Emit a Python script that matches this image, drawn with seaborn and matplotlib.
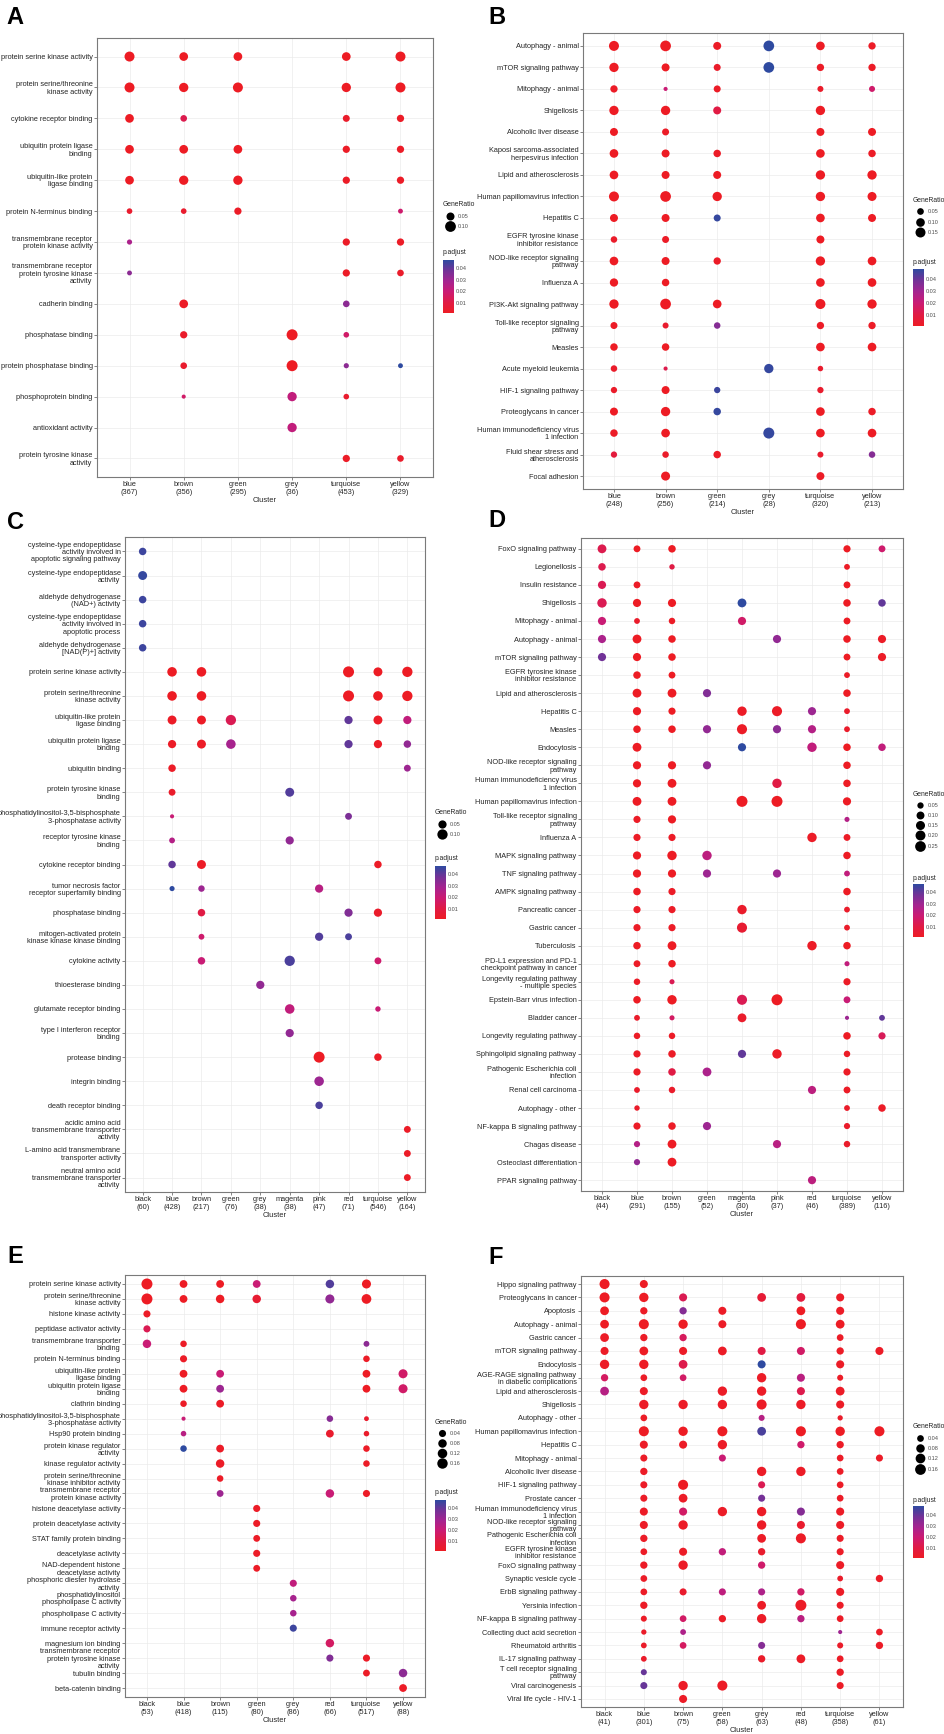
import numpy as np
import pandas as pd
import matplotlib
matplotlib.use("Agg")
import matplotlib.pyplot as plt
import seaborn as sns
from matplotlib.colors import LinearSegmentedColormap, Normalize
from matplotlib.cm import ScalarMappable
from matplotlib.lines import Line2D

_ = None

# ---------------- Panel A ----------------
A_clusters = ["blue", "brown", "green", "grey", "turquoise", "yellow"]
A_counts = [367, 356, 295, 36, 453, 329]
A_terms = ["protein serine kinase activity", "protein serine/threonine\nkinase activity",
           "cytokine receptor binding", "ubiquitin protein ligase\nbinding",
           "ubiquitin-like protein\nligase binding", "protein N-terminus binding",
           "transmembrane receptor\nprotein kinase activity",
           "transmembrane receptor\nprotein tyrosine kinase\nactivity",
           "cadherin binding", "phosphatase binding", "protein phosphatase binding",
           "phosphoprotein binding", "antioxidant activity", "protein tyrosine kinase\nactivity"]
A_ratio = [[0.083, 0.060, 0.060, _, 0.060, 0.083],
           [0.083, 0.070, 0.083, _, 0.070, 0.083],
           [0.060, 0.035, _, _, 0.038, 0.041],
           [0.060, 0.060, 0.060, _, 0.041, 0.041],
           [0.060, 0.070, 0.070, _, 0.041, 0.041],
           [0.028, 0.028, 0.041, _, _, 0.025],
           [0.026, _, _, _, 0.041, 0.041],
           [0.025, _, _, _, 0.041, 0.035],
           [_, 0.060, _, _, 0.035, _],
           [_, 0.041, _, 0.105, 0.028, _],
           [_, 0.035, _, 0.105, 0.026, 0.025],
           [_, 0.024, _, 0.070, 0.028, _],
           [_, _, _, 0.070, _, _],
           [_, _, _, _, 0.041, 0.035]]
A_padj = [[0.001, 0.001, 0.001, _, 0.001, 0.001],
          [0.001, 0.001, 0.001, _, 0.001, 0.001],
          [0.001, 0.012, _, _, 0.003, 0.002],
          [0.001, 0.001, 0.001, _, 0.002, 0.002],
          [0.001, 0.001, 0.001, _, 0.002, 0.002],
          [0.004, 0.004, 0.002, _, _, 0.018],
          [0.027, _, _, _, 0.002, 0.002],
          [0.033, _, _, _, 0.002, 0.003],
          [_, 0.002, _, _, 0.033, _],
          [_, 0.003, _, 0.001, 0.017, _],
          [_, 0.004, _, 0.001, 0.033, 0.047],
          [_, 0.017, _, 0.022, 0.004, _],
          [_, _, _, 0.022, _, _],
          [_, _, _, _, 0.002, 0.003]]
A_breaks = [0.05, 0.10]

# ---------------- Panel B ----------------
B_clusters = ["blue", "brown", "green", "grey", "turquoise", "yellow"]
B_counts = [248, 256, 214, 28, 320, 213]
B_terms = ["Autophagy - animal", "mTOR signaling pathway", "Mitophagy - animal", "Shigellosis",
           "Alcoholic liver disease", "Kaposi sarcoma-associated\nherpesvirus infection",
           "Lipid and atherosclerosis", "Human papillomavirus infection", "Hepatitis C",
           "EGFR tyrosine kinase\ninhibitor resistance", "NOD-like receptor signaling\npathway",
           "Influenza A", "PI3K-Akt signaling pathway", "Toll-like receptor signaling\npathway",
           "Measles", "Acute myeloid leukemia", "HIF-1 signaling pathway", "Proteoglycans in cancer",
           "Human immunodeficiency virus\n1 infection", "Fluid shear stress and\natherosclerosis",
           "Focal adhesion"]
B_ratio = [[0.150, 0.182, 0.080, 0.182, 0.100, 0.063],
           [0.123, 0.080, 0.056, 0.182, 0.063, 0.063],
           [0.063, 0.026, 0.056, _, 0.039, 0.039],
           [0.123, 0.123, 0.080, _, 0.123, _],
           [0.080, 0.056, _, _, 0.080, 0.080],
           [0.100, 0.080, 0.067, _, 0.100, 0.067],
           [0.100, 0.080, 0.080, _, 0.123, 0.123],
           [0.150, 0.182, 0.123, _, 0.123, 0.112],
           [0.080, 0.080, 0.056, _, 0.100, 0.080],
           [0.047, 0.056, _, _, 0.080, _],
           [0.100, 0.080, 0.063, _, 0.123, 0.100],
           [0.089, 0.067, _, _, 0.100, 0.100],
           [0.123, 0.182, 0.100, _, 0.150, 0.123],
           [0.056, 0.039, 0.047, _, 0.063, 0.063],
           [0.067, 0.067, _, _, 0.100, 0.100],
           [0.047, 0.026, _, 0.123, 0.033, _],
           [0.043, 0.080, 0.043, _, 0.043, _],
           [0.080, 0.123, 0.067, _, 0.100, 0.067],
           [0.067, 0.100, _, 0.196, 0.100, 0.100],
           [0.043, 0.047, 0.067, _, 0.039, 0.047],
           [_, 0.112, _, _, 0.080, _]]
B_padj = [[0.001, 0.001, 0.002, 0.048, 0.001, 0.002],
          [0.001, 0.001, 0.003, 0.048, 0.002, 0.002],
          [0.002, 0.020, 0.002, _, 0.003, 0.018],
          [0.001, 0.001, 0.010, _, 0.001, _],
          [0.001, 0.002, _, _, 0.001, 0.001],
          [0.001, 0.001, 0.002, _, 0.001, 0.002],
          [0.001, 0.001, 0.001, _, 0.001, 0.001],
          [0.001, 0.001, 0.001, _, 0.001, 0.001],
          [0.001, 0.001, 0.047, _, 0.001, 0.001],
          [0.003, 0.002, _, _, 0.001, _],
          [0.001, 0.001, 0.002, _, 0.001, 0.001],
          [0.001, 0.001, _, _, 0.001, 0.001],
          [0.001, 0.001, 0.001, _, 0.001, 0.001],
          [0.002, 0.004, 0.035, _, 0.002, 0.002],
          [0.001, 0.001, _, _, 0.001, 0.001],
          [0.003, 0.012, _, 0.047, 0.004, _],
          [0.003, 0.001, 0.046, _, 0.004, _],
          [0.001, 0.001, 0.047, _, 0.001, 0.002],
          [0.002, 0.001, _, 0.047, 0.001, 0.001],
          [0.008, 0.003, 0.002, _, 0.004, 0.035],
          [_, 0.001, _, _, 0.002, _]]
B_breaks = [0.05, 0.10, 0.15]

# ---------------- Panel C ----------------
C_clusters = ["black", "blue", "brown", "green", "grey", "magenta", "pink", "red", "turquoise", "yellow"]
C_counts = [60, 428, 217, 76, 38, 38, 47, 71, 546, 164]
C_terms = ["cysteine-type endopeptidase\nactivity involved in\napoptotic signaling pathway",
           "cysteine-type endopeptidase\nactivity", "aldehyde dehydrogenase\n(NAD+) activity",
           "cysteine-type endopeptidase\nactivity involved in\napoptotic process",
           "aldehyde dehydrogenase\n[NAD(P)+] activity", "protein serine kinase activity",
           "protein serine/threonine\nkinase activity", "ubiquitin-like protein\nligase binding",
           "ubiquitin protein ligase\nbinding", "ubiquitin binding",
           "protein tyrosine kinase\nbinding",
           "phosphatidylinositol-3,5-bisphosphate\n3-phosphatase activity",
           "receptor tyrosine kinase\nbinding", "cytokine receptor binding",
           "tumor necrosis factor\nreceptor superfamily binding", "phosphatase binding",
           "mitogen-activated protein\nkinase kinase kinase binding", "cytokine activity",
           "thioesterase binding", "glutamate receptor binding",
           "type I interferon receptor\nbinding", "protease binding", "integrin binding",
           "death receptor binding", "acidic amino acid\ntransmembrane transporter\nactivity",
           "L-amino acid transmembrane\ntransporter activity",
           "neutral amino acid\ntransmembrane transporter\nactivity"]
C_ratio = [[0.037, _, _, _, _, _, _, _, _, _],
           [0.065, _, _, _, _, _, _, _, _, _],
           [0.037, _, _, _, _, _, _, _, _, _],
           [0.037, _, _, _, _, _, _, _, _, _],
           [0.037, _, _, _, _, _, _, _, _, _],
           [_, 0.080, 0.080, _, _, _, _, 0.122, 0.065, 0.100],
           [_, 0.080, 0.080, _, _, _, _, 0.122, 0.080, 0.100],
           [_, 0.065, 0.065, 0.100, _, _, _, 0.050, 0.065, 0.050],
           [_, 0.050, 0.065, 0.080, _, _, _, 0.050, 0.050, 0.037],
           [_, 0.037, _, _, _, _, _, _, _, 0.028],
           [_, 0.028, _, _, _, 0.065, _, _, _, _],
           [_, 0.010, _, _, _, _, _, 0.028, _, _],
           [_, 0.017, _, _, _, 0.050, _, _, _, _],
           [_, 0.037, 0.065, _, _, _, _, _, 0.037, _],
           [_, 0.0125, 0.023, _, _, _, 0.050, _, _, _],
           [_, _, 0.037, _, _, _, _, 0.050, 0.050, _],
           [_, _, 0.017, _, _, _, 0.050, 0.028, _, _],
           [_, _, 0.037, _, _, 0.100, _, _, 0.028, _],
           [_, _, _, _, 0.050, _, _, _, _, _],
           [_, _, _, _, _, 0.080, _, _, 0.014, _],
           [_, _, _, _, _, 0.050, _, _, _, _],
           [_, _, _, _, _, _, 0.122, _, 0.037, _],
           [_, _, _, _, _, _, 0.080, _, _, _],
           [_, _, _, _, _, _, 0.037, _, _, _],
           [_, _, _, _, _, _, _, _, _, 0.028],
           [_, _, _, _, _, _, _, _, _, 0.028],
           [_, _, _, _, _, _, _, _, _, 0.028]]
C_padj = [[0.045, _, _, _, _, _, _, _, _, _],
          [0.046, _, _, _, _, _, _, _, _, _],
          [0.045, _, _, _, _, _, _, _, _, _],
          [0.045, _, _, _, _, _, _, _, _, _],
          [0.045, _, _, _, _, _, _, _, _, _],
          [_, 0.001, 0.001, _, _, _, _, 0.001, 0.001, 0.001],
          [_, 0.001, 0.001, _, _, _, _, 0.001, 0.001, 0.001],
          [_, 0.002, 0.002, 0.013, _, _, _, 0.040, 0.002, 0.022],
          [_, 0.002, 0.002, 0.028, _, _, _, 0.040, 0.002, 0.032],
          [_, 0.002, _, _, _, _, _, _, _, 0.030],
          [_, 0.003, _, _, _, 0.042, _, _, _, _],
          [_, 0.020, _, _, _, _, _, 0.036, _, _],
          [_, 0.025, _, _, _, 0.032, _, _, _, _],
          [_, 0.040, 0.002, _, _, _, _, _, 0.002, _],
          [_, 0.047, 0.030, _, _, _, 0.024, _, _, _],
          [_, _, 0.010, _, _, _, _, 0.035, 0.003, _],
          [_, _, 0.018, _, _, _, 0.042, 0.043, _, _],
          [_, _, 0.020, _, _, 0.043, _, _, 0.018, _],
          [_, _, _, _, 0.032, _, _, _, _, _],
          [_, _, _, _, _, 0.022, _, _, 0.020, _],
          [_, _, _, _, _, 0.032, _, _, _, _],
          [_, _, _, _, _, _, 0.001, _, 0.002, _],
          [_, _, _, _, _, _, 0.030, _, _, _],
          [_, _, _, _, _, _, 0.043, _, _, _],
          [_, _, _, _, _, _, _, _, _, 0.002],
          [_, _, _, _, _, _, _, _, _, 0.002],
          [_, _, _, _, _, _, _, _, _, 0.002]]
C_breaks = [0.05, 0.10]

# ---------------- Panel D ----------------
D_clusters = ["black", "blue", "brown", "green", "magenta", "pink", "red", "turquoise", "yellow"]
D_counts = [44, 291, 155, 52, 30, 37, 46, 389, 116]
D_terms = ["FoxO signaling pathway", "Legionellosis", "Insulin resistance", "Shigellosis",
           "Mitophagy - animal", "Autophagy - animal", "mTOR signaling pathway",
           "EGFR tyrosine kinase\ninhibitor resistance", "Lipid and atherosclerosis", "Hepatitis C",
           "Measles", "Endocytosis", "NOD-like receptor signaling\npathway",
           "Human immunodeficiency virus\n1 infection", "Human papillomavirus infection",
           "Toll-like receptor signaling\npathway", "Influenza A", "MAPK signaling pathway",
           "TNF signaling pathway", "AMPK signaling pathway", "Pancreatic cancer", "Gastric cancer",
           "Tuberculosis", "PD-L1 expression and PD-1\ncheckpoint pathway in cancer",
           "Longevity regulating pathway\n- multiple species", "Epstein-Barr virus infection",
           "Bladder cancer", "Longevity regulating pathway", "Sphingolipid signaling pathway",
           "Pathogenic Escherichia coli\ninfection", "Renal cell carcinoma", "Autophagy - other",
           "NF-kappa B signaling pathway", "Chagas disease", "Osteoclast differentiation",
           "PPAR signaling pathway"]
D_ratio = [[0.14, 0.064, 0.085, _, _, _, _, 0.074, 0.064],
           [0.085, _, 0.034, _, _, _, _, 0.040, _],
           [0.11, 0.064, _, _, _, _, _, 0.064, _],
           [0.17, 0.11, 0.11, _, 0.14, _, _, 0.085, 0.085],
           [0.11, 0.040, 0.054, _, 0.11, _, _, 0.064, _],
           [0.11, 0.14, 0.085, _, _, 0.11, _, 0.085, 0.11],
           [0.11, 0.11, 0.085, _, _, _, _, 0.064, 0.11],
           [_, 0.085, 0.064, _, _, _, _, 0.040, _],
           [_, 0.14, 0.14, 0.11, _, _, _, 0.085, _],
           [_, 0.11, 0.074, _, 0.17, 0.21, 0.11, 0.040, _],
           [_, 0.085, 0.085, 0.11, 0.21, 0.11, 0.11, 0.040, _],
           [_, 0.14, _, _, 0.11, _, 0.17, 0.085, 0.085],
           [_, 0.11, 0.11, 0.11, _, _, _, 0.085, _],
           [_, 0.11, 0.14, _, _, 0.17, _, 0.085, _],
           [_, 0.14, 0.14, _, 0.27, 0.27, _, 0.11, _],
           [_, 0.074, 0.11, _, _, _, _, 0.030, _],
           [_, 0.074, 0.074, _, _, _, 0.17, 0.064, _],
           [_, 0.11, 0.17, 0.17, _, _, _, 0.085, _],
           [_, 0.11, 0.11, 0.11, _, 0.11, _, 0.040, _],
           [_, 0.085, 0.074, _, _, _, _, 0.085, _],
           [_, 0.074, 0.074, _, 0.17, _, _, 0.040, _],
           [_, 0.074, 0.074, _, 0.21, _, _, 0.040, _],
           [_, 0.085, 0.14, _, _, _, 0.17, 0.085, _],
           [_, 0.064, 0.085, _, _, _, _, 0.030, _],
           [_, 0.054, 0.030, _, _, _, _, 0.074, _],
           [_, 0.085, 0.17, _, 0.21, 0.27, _, 0.064, _],
           [_, 0.040, 0.030, _, 0.14, _, _, 0.025, 0.040],
           [_, 0.054, 0.054, _, _, _, _, 0.085, 0.074],
           [_, 0.074, 0.085, _, 0.11, 0.17, _, 0.054, _],
           [_, 0.074, 0.085, 0.14, _, _, _, 0.074, _],
           [_, 0.040, 0.054, _, _, _, 0.11, 0.064, _],
           [_, 0.034, _, _, _, _, _, 0.040, 0.085],
           [_, 0.074, 0.085, 0.11, _, _, _, 0.047, _],
           [_, 0.047, 0.14, _, _, 0.11, _, 0.054, _],
           [_, 0.047, 0.14, _, _, _, _, _, _],
           [_, _, _, _, _, _, 0.11, _, _]]
D_padj = [[0.012, 0.001, 0.001, _, _, _, _, 0.001, 0.018],
          [0.012, _, 0.010, _, _, _, _, 0.002, _],
          [0.013, 0.002, _, _, _, _, _, 0.001, _],
          [0.013, 0.001, 0.001, _, 0.047, _, _, 0.001, 0.040],
          [0.020, 0.003, 0.002, _, 0.017, _, _, 0.001, _],
          [0.027, 0.001, 0.001, _, _, 0.032, _, 0.001, 0.002],
          [0.038, 0.001, 0.001, _, _, _, _, 0.001, 0.002],
          [_, 0.001, 0.001, _, _, _, _, 0.002, _],
          [_, 0.001, 0.001, 0.035, _, _, _, 0.001, _],
          [_, 0.001, 0.001, _, 0.002, 0.002, 0.030, 0.003, _],
          [_, 0.001, 0.001, 0.032, 0.002, 0.033, 0.025, 0.003, _],
          [_, 0.001, _, _, 0.047, _, 0.022, 0.001, 0.022],
          [_, 0.001, 0.001, 0.032, _, _, _, 0.001, _],
          [_, 0.001, 0.001, _, _, 0.010, _, 0.001, _],
          [_, 0.001, 0.001, _, 0.001, 0.001, _, 0.001, _],
          [_, 0.002, 0.001, _, _, _, _, 0.025, _],
          [_, 0.002, 0.002, _, _, _, 0.002, 0.002, _],
          [_, 0.001, 0.001, 0.023, _, _, _, 0.001, _],
          [_, 0.001, 0.001, 0.030, _, 0.030, _, 0.022, _],
          [_, 0.001, 0.002, _, _, _, _, 0.001, _],
          [_, 0.002, 0.002, _, 0.003, _, _, 0.003, _],
          [_, 0.002, 0.002, _, 0.005, _, _, 0.003, _],
          [_, 0.001, 0.001, _, _, _, 0.002, 0.001, _],
          [_, 0.002, 0.001, _, _, _, _, 0.022, _],
          [_, 0.002, 0.013, _, _, _, _, 0.002, _],
          [_, 0.001, 0.001, _, 0.013, 0.001, _, 0.020, _],
          [_, 0.003, 0.016, _, 0.003, _, _, 0.030, 0.040],
          [_, 0.002, 0.002, _, _, _, _, 0.001, 0.014],
          [_, 0.002, 0.002, _, 0.040, 0.002, _, 0.002, _],
          [_, 0.002, 0.010, 0.027, _, _, _, 0.002, _],
          [_, 0.003, 0.003, _, _, _, 0.023, 0.002, _],
          [_, 0.003, _, _, _, _, _, 0.003, 0.002],
          [_, 0.002, 0.002, 0.030, _, _, _, 0.003, _],
          [_, 0.025, 0.001, _, _, 0.024, _, 0.003, _],
          [_, 0.032, 0.001, _, _, _, _, _, _],
          [_, _, _, _, _, _, 0.023, _, _]]
D_breaks = [0.05, 0.10, 0.15, 0.20, 0.25]

# ---------------- Panel E ----------------
E_clusters = ["black", "blue", "brown", "green", "grey", "red", "turquoise", "yellow"]
E_counts = [53, 418, 115, 80, 86, 66, 517, 88]
E_terms = ["protein serine kinase activity", "protein serine/threonine\nkinase activity",
           "histone kinase activity", "peptidase activator activity",
           "transmembrane transporter\nbinding", "protein N-terminus binding",
           "ubiquitin-like protein\nligase binding", "ubiquitin protein ligase\nbinding",
           "clathrin binding", "phosphatidylinositol-3,5-bisphosphate\n3-phosphatase activity",
           "Hsp90 protein binding", "protein kinase regulator\nactivity", "kinase regulator activity",
           "protein serine/threonine\nkinase inhibitor activity",
           "transmembrane receptor\nprotein kinase activity", "histone deacetylase activity",
           "protein deacetylase activity", "STAT family protein binding", "deacetylase activity",
           "NAD-dependent histone\ndeacetylase activity", "phosphoric diester hydrolase\nactivity",
           "phosphatidylinositol\nphospholipase C activity", "phospholipase C activity",
           "immune receptor activity", "magnesium ion binding",
           "transmembrane receptor\nprotein tyrosine kinase\nactivity", "tubulin binding",
           "beta-catenin binding"]
E_ratio = [[0.19, 0.058, 0.058, 0.058, _, 0.079, 0.100, _],
           [0.19, 0.058, 0.079, 0.079, _, 0.100, 0.128, _],
           [0.040, _, _, _, _, _, _, _],
           [0.040, _, _, _, _, _, _, _],
           [0.079, 0.028, _, _, _, _, 0.017, _],
           [_, 0.040, _, _, _, _, 0.028, _],
           [_, 0.058, 0.058, _, _, _, 0.058, 0.100],
           [_, 0.058, 0.058, _, _, _, 0.058, 0.100],
           [_, 0.028, 0.058, _, _, _, _, _],
           [_, 0.005, _, _, _, 0.028, 0.007, _],
           [_, 0.013, _, _, _, 0.058, 0.013, _],
           [_, 0.028, 0.058, _, _, _, 0.028, _],
           [_, _, 0.079, _, _, _, 0.028, _],
           [_, _, 0.028, _, _, _, _, _],
           [_, _, 0.034, _, _, 0.079, 0.040, _],
           [_, _, _, 0.040, _, _, _, _],
           [_, _, _, 0.040, _, _, _, _],
           [_, _, _, 0.034, _, _, _, _],
           [_, _, _, 0.040, _, _, _, _],
           [_, _, _, 0.034, _, _, _, _],
           [_, _, _, _, 0.040, _, _, _],
           [_, _, _, _, 0.028, _, _, _],
           [_, _, _, _, 0.028, _, _, _],
           [_, _, _, _, 0.040, _, _, _],
           [_, _, _, _, _, 0.079, _, _],
           [_, _, _, _, _, 0.040, 0.040, _],
           [_, _, _, _, _, _, 0.034, 0.079],
           [_, _, _, _, _, _, _, 0.058]]
E_padj = [[0.001, 0.001, 0.001, 0.020, _, 0.042, 0.001, _],
          [0.001, 0.001, 0.001, 0.005, _, 0.032, 0.001, _],
          [0.002, _, _, _, _, _, _, _],
          [0.013, _, _, _, _, _, _, _],
          [0.020, 0.002, _, _, _, _, 0.033, _],
          [_, 0.002, _, _, _, _, 0.002, _],
          [_, 0.001, 0.020, _, _, _, 0.001, 0.017],
          [_, 0.001, 0.030, _, _, _, 0.001, 0.017],
          [_, 0.002, 0.002, _, _, _, _, _],
          [_, 0.020, _, _, _, 0.034, 0.004, _],
          [_, 0.024, _, _, _, 0.004, 0.003, _],
          [_, 0.047, 0.002, _, _, _, 0.002, _],
          [_, _, 0.002, _, _, _, 0.002, _],
          [_, _, 0.002, _, _, _, _, _],
          [_, _, 0.030, _, _, 0.020, 0.002, _],
          [_, _, _, 0.002, _, _, _, _],
          [_, _, _, 0.002, _, _, _, _],
          [_, _, _, 0.002, _, _, _, _],
          [_, _, _, 0.002, _, _, _, _],
          [_, _, _, 0.002, _, _, _, _],
          [_, _, _, _, 0.022, _, _, _],
          [_, _, _, _, 0.028, _, _, _],
          [_, _, _, _, 0.028, _, _, _],
          [_, _, _, _, 0.045, _, _, _],
          [_, _, _, _, _, 0.016, _, _],
          [_, _, _, _, _, 0.035, 0.002, _],
          [_, _, _, _, _, _, 0.002, 0.033],
          [_, _, _, _, _, _, _, 0.002]]
E_breaks = [0.04, 0.08, 0.12, 0.16]

# ---------------- Panel F ----------------
F_clusters = ["black", "blue", "brown", "green", "grey", "red", "turquoise", "yellow"]
F_counts = [41, 301, 75, 58, 63, 48, 358, 61]
F_terms = ["Hippo signaling pathway", "Proteoglycans in cancer", "Apoptosis", "Autophagy - animal",
           "Gastric cancer", "mTOR signaling pathway", "Endocytosis",
           "AGE-RAGE signaling pathway\nin diabetic complications", "Lipid and atherosclerosis",
           "Shigellosis", "Autophagy - other", "Human papillomavirus infection", "Hepatitis C",
           "Mitophagy - animal", "Alcoholic liver disease", "HIF-1 signaling pathway",
           "Prostate cancer", "Human immunodeficiency virus\n1 infection",
           "NOD-like receptor signaling\npathway", "Pathogenic Escherichia coli\ninfection",
           "EGFR tyrosine kinase\ninhibitor resistance", "FoxO signaling pathway",
           "Synaptic vesicle cycle", "ErbB signaling pathway", "Yersinia infection",
           "NF-kappa B signaling pathway", "Collecting duct acid secretion", "Rheumatoid arthritis",
           "IL-17 signaling pathway", "T cell receptor signaling\npathway", "Viral carcinogenesis",
           "Viral life cycle - HIV-1"]
F_ratio = [[0.131, 0.068, _, _, _, _, _, _],
           [0.131, 0.106, 0.068, _, 0.087, 0.087, 0.068, _],
           [0.087, 0.051, 0.051, 0.068, _, 0.087, 0.068, _],
           [0.087, 0.131, 0.106, 0.068, _, 0.131, 0.087, _],
           [0.087, 0.051, 0.051, _, _, _, 0.040, _],
           [0.068, 0.087, 0.068, 0.087, 0.068, 0.068, 0.051, 0.068],
           [0.106, 0.106, 0.087, _, 0.068, _, 0.068, _],
           [0.051, 0.040, 0.040, _, 0.106, 0.068, 0.030, _],
           [0.087, 0.068, _, 0.106, 0.106, 0.068, 0.087, _],
           [_, 0.106, 0.106, 0.106, 0.131, 0.106, 0.068, _],
           [_, 0.040, _, _, 0.030, _, 0.0225, _],
           [_, 0.131, 0.106, 0.131, 0.087, 0.131, 0.106, 0.131],
           [_, 0.068, 0.068, 0.106, _, 0.051, 0.051, _],
           [_, 0.046, _, 0.046, _, _, 0.040, 0.046],
           [_, 0.051, _, _, 0.106, 0.106, 0.040, _],
           [_, 0.046, 0.131, _, 0.046, _, 0.040, _],
           [_, 0.046, 0.087, _, 0.046, _, 0.040, _],
           [_, 0.068, 0.068, 0.106, 0.106, 0.068, 0.068, _],
           [_, 0.068, 0.106, _, 0.106, 0.068, 0.068, _],
           [_, 0.051, _, _, 0.087, 0.131, 0.046, _],
           [_, 0.040, 0.068, 0.051, 0.051, _, 0.046, _],
           [_, 0.051, 0.106, _, 0.051, _, 0.068, _],
           [_, 0.040, _, _, _, _, 0.027, 0.051],
           [_, 0.040, 0.046, 0.046, 0.046, 0.051, 0.068, _],
           [_, 0.051, _, _, 0.087, 0.170, 0.046, _],
           [_, 0.030, 0.040, 0.051, 0.106, 0.051, 0.040, _],
           [_, 0.0225, 0.027, _, _, _, 0.018, 0.040],
           [_, 0.027, 0.040, _, 0.046, _, 0.030, 0.051],
           [_, 0.027, _, _, 0.051, 0.087, 0.040, _],
           [_, 0.030, _, _, _, _, 0.051, _],
           [_, 0.046, 0.106, 0.131, _, _, 0.046, _],
           [_, _, 0.068, _, _, _, _, _]]
F_padj = [[0.001, 0.001, _, _, _, _, _, _],
          [0.001, 0.001, 0.013, _, 0.006, 0.008, 0.002, _],
          [0.001, 0.002, 0.035, 0.002, _, 0.001, 0.002, _],
          [0.001, 0.001, 0.001, 0.002, _, 0.001, 0.001, _],
          [0.002, 0.002, 0.015, _, _, _, 0.002, _],
          [0.002, 0.001, 0.002, 0.002, 0.010, 0.017, 0.002, 0.002],
          [0.002, 0.001, 0.012, _, 0.048, _, 0.002, _],
          [0.016, 0.002, 0.017, _, 0.002, 0.024, 0.002, _],
          [0.025, 0.002, _, 0.002, 0.002, 0.012, 0.002, _],
          [_, 0.002, 0.002, 0.002, 0.002, 0.002, 0.002, _],
          [_, 0.002, _, _, 0.025, _, 0.003, _],
          [_, 0.001, 0.001, 0.001, 0.044, 0.001, 0.001, 0.001],
          [_, 0.002, 0.002, 0.002, _, 0.018, 0.002, _],
          [_, 0.002, _, 0.020, _, _, 0.002, 0.002],
          [_, 0.002, _, _, 0.002, 0.002, 0.002, _],
          [_, 0.002, 0.001, _, 0.013, _, 0.002, _],
          [_, 0.002, 0.002, _, 0.038, _, 0.002, _],
          [_, 0.002, 0.017, 0.002, 0.002, 0.035, 0.002, _],
          [_, 0.002, 0.002, _, 0.002, 0.004, 0.002, _],
          [_, 0.002, _, _, 0.002, 0.002, 0.002, _],
          [_, 0.002, 0.002, 0.022, 0.004, _, 0.002, _],
          [_, 0.002, 0.002, _, 0.018, _, 0.002, _],
          [_, 0.002, _, _, _, _, 0.003, 0.002],
          [_, 0.002, 0.004, 0.023, 0.027, 0.017, 0.002, _],
          [_, 0.002, _, _, 0.002, 0.002, 0.002, _],
          [_, 0.002, 0.017, 0.002, 0.002, 0.024, 0.002, _],
          [_, 0.003, 0.027, _, _, _, 0.030, 0.002],
          [_, 0.003, 0.016, _, 0.035, _, 0.003, 0.002],
          [_, 0.003, _, _, 0.003, 0.002, 0.002, _],
          [_, 0.040, _, _, _, _, 0.002, _],
          [_, 0.040, 0.002, 0.002, _, _, 0.002, _],
          [_, _, 0.002, _, _, _, _, _]]
F_breaks = [0.04, 0.08, 0.12, 0.16]

# ---------------- style ----------------
W, H = 945, 1734
sns.set_theme(style="white")
plt.rcParams["font.family"] = ["Liberation Sans", "DejaVu Sans"]
FS_TICK = 5.3
FS_XLAB = 5.4
FS_LTITLE = 4.9
FS_LEG = 4.0
LSP = 1.05
TXT = "#262626"
LEGTXT = "#4d4d4d"

cmap = LinearSegmentedColormap.from_list(
    "padj", ["#ED1C24", "#E01B45", "#CB1B73", "#A52490", "#723297", "#2E4AA0"])
D_MIN, D_MAX = 4.1, 11.0  # dot diameters in px (ggplot size range 3..8)
PX2PT = 72.0 / 100.0


def gg_area(v, vmin, vmax):
    t = np.clip((np.asarray(v, float) - vmin) / (vmax - vmin), 0, 1)
    d = D_MIN + np.sqrt(t) * (D_MAX - D_MIN)
    return (d * PX2PT) ** 2


def rect(x0, y0, x1, y1):
    return [x0 / W, 1 - y1 / H, (x1 - x0) / W, (y1 - y0) / H]


panels = [
    dict(L="A", cl=A_clusters, n=A_counts, terms=A_terms, r=A_ratio, p=A_padj, br=A_breaks,
         ax=(97, 38, 433, 477), letter=(6, 6), gt=(443, 205), g0=217, gs=12,
         cb=(443, 260, 454, 313), pt=253),
    dict(L="B", cl=B_clusters, n=B_counts, terms=B_terms, r=B_ratio, p=B_padj, br=B_breaks,
         ax=(583, 33, 903, 489), letter=(488, 6), gt=(913, 200), g0=212, gs=12.5,
         cb=(913, 269, 924, 326), pt=263),
    dict(L="C", cl=C_clusters, n=C_counts, terms=C_terms, r=C_ratio, p=C_padj, br=C_breaks,
         ax=(125, 537, 425, 1192), letter=(7, 511), gt=(435, 813), g0=825, gs=12,
         cb=(435, 866, 446, 919), pt=859),
    dict(L="D", cl=D_clusters, n=D_counts, terms=D_terms, r=D_ratio, p=D_padj, br=D_breaks,
         ax=(581, 538, 903, 1191), letter=(488, 509), gt=(913, 795), g0=806, gs=11.9,
         cb=(913, 884, 924, 937), pt=878),
    dict(L="E", cl=E_clusters, n=E_counts, terms=E_terms, r=E_ratio, p=E_padj, br=E_breaks,
         ax=(125, 1275, 425, 1697), letter=(7, 1245), gt=(435, 1423), g0=1434, gs=11.7,
         cb=(435, 1500, 446, 1551), pt=1493),
    dict(L="F", cl=F_clusters, n=F_counts, terms=F_terms, r=F_ratio, p=F_padj, br=F_breaks,
         ax=(581, 1276, 903, 1707), letter=(488, 1246), gt=(913, 1427), g0=1439, gs=12,
         cb=(913, 1506, 924, 1558), pt=1500),
]

fig = plt.figure(figsize=(W / 100, H / 100), dpi=100)

for P in panels:
    rows = []
    for i, term in enumerate(P["terms"]):
        for j, cl in enumerate(P["cl"]):
            rv = P["r"][i][j]
            if rv is None:
                continue
            rows.append(dict(term=term, cluster=cl, yi=i, xi=j, GeneRatio=rv, padj=P["p"][i][j]))
    df = pd.DataFrame(rows)
    vmin, vmax = df["GeneRatio"].min(), df["GeneRatio"].max()
    df["area"] = gg_area(df["GeneRatio"], vmin, vmax)
    pnorm = Normalize(vmin=df["padj"].min(), vmax=df["padj"].max())

    ax = fig.add_axes(rect(*P["ax"]))
    amin, amax = df["area"].min(), df["area"].max()
    sns.scatterplot(data=df, x="xi", y="yi", hue="padj", palette=cmap, hue_norm=pnorm,
                    size="area", sizes=(amin, amax), size_norm=(amin, amax),
                    linewidth=0, edgecolor="none", legend=False, ax=ax, zorder=3)
    nx, ny = len(P["cl"]), len(P["terms"])
    ax.set_xlim(-0.6, nx - 1 + 0.6)
    ax.set_ylim(ny - 1 + 0.6, -0.6)
    ax.set_xticks(range(nx))
    ax.set_xticklabels([f"{c}\n({n})" for c, n in zip(P["cl"], P["n"])],
                       fontsize=FS_TICK, color=TXT, linespacing=LSP)
    ax.set_yticks(range(ny))
    ax.set_yticklabels(P["terms"], fontsize=FS_TICK, color=TXT, linespacing=LSP)
    ax.set_xlabel("Cluster", fontsize=FS_XLAB, color=TXT, labelpad=1)
    ax.set_ylabel("")
    ax.grid(True, color="#EBEBEB", linewidth=0.5)
    ax.set_axisbelow(True)
    for s in ax.spines.values():
        s.set_color("#7a7a7a")
        s.set_linewidth(0.8)
    ax.tick_params(axis="both", length=2, width=0.5, color="#555555", pad=1.2,
                   bottom=True, left=True)

    # panel letter
    lx, ly = P["letter"]
    fig.text(lx / W, 1 - ly / H, P["L"], fontsize=17, fontweight="bold",
             va="top", ha="left", color="black")

    # GeneRatio size legend
    gx, gy = P["gt"]
    fig.text(gx / W, 1 - gy / H, "GeneRatio", fontsize=FS_LTITLE, color=TXT, va="center", ha="left")
    br_areas = gg_area(P["br"], vmin, vmax)
    handles = [Line2D([], [], ls="", marker="o", markersize=np.sqrt(a), color="black",
                      markeredgewidth=0) for a in br_areas]
    fs_px = FS_LEG / 0.72
    lab_sp = max((P["gs"] - 1.2 * fs_px) / fs_px, 0.1)
    fig.legend(handles, [f"{b:.2f}" for b in P["br"]], loc="upper left",
               bbox_to_anchor=((gx + 1) / W, 1 - (P["g0"] - 0.6 * fs_px) / H),
               frameon=False, fontsize=FS_LEG, borderpad=0, borderaxespad=0,
               handlelength=2.0, handletextpad=0.5, labelspacing=lab_sp,
               labelcolor=LEGTXT)

    # p.adjust colourbar
    cx0, cy0, cx1, cy1 = P["cb"]
    fig.text(cx0 / W, 1 - P["pt"] / H, "p.adjust", fontsize=FS_LTITLE, color=TXT,
             va="center", ha="left")
    cax = fig.add_axes(rect(cx0, cy0, cx1, cy1))
    cb = fig.colorbar(ScalarMappable(norm=pnorm, cmap=cmap), cax=cax)
    cb.set_ticks([0.01, 0.02, 0.03, 0.04])
    cb.set_ticklabels(["0.01", "0.02", "0.03", "0.04"])
    cb.outline.set_visible(False)
    cax.tick_params(axis="y", which="both", direction="in", length=2.2, width=0.6,
                    color="white", labelsize=FS_LEG, labelcolor=LEGTXT, pad=1.5,
                    left=True, right=True)

fig.savefig("out.png", dpi=100, facecolor="white")
